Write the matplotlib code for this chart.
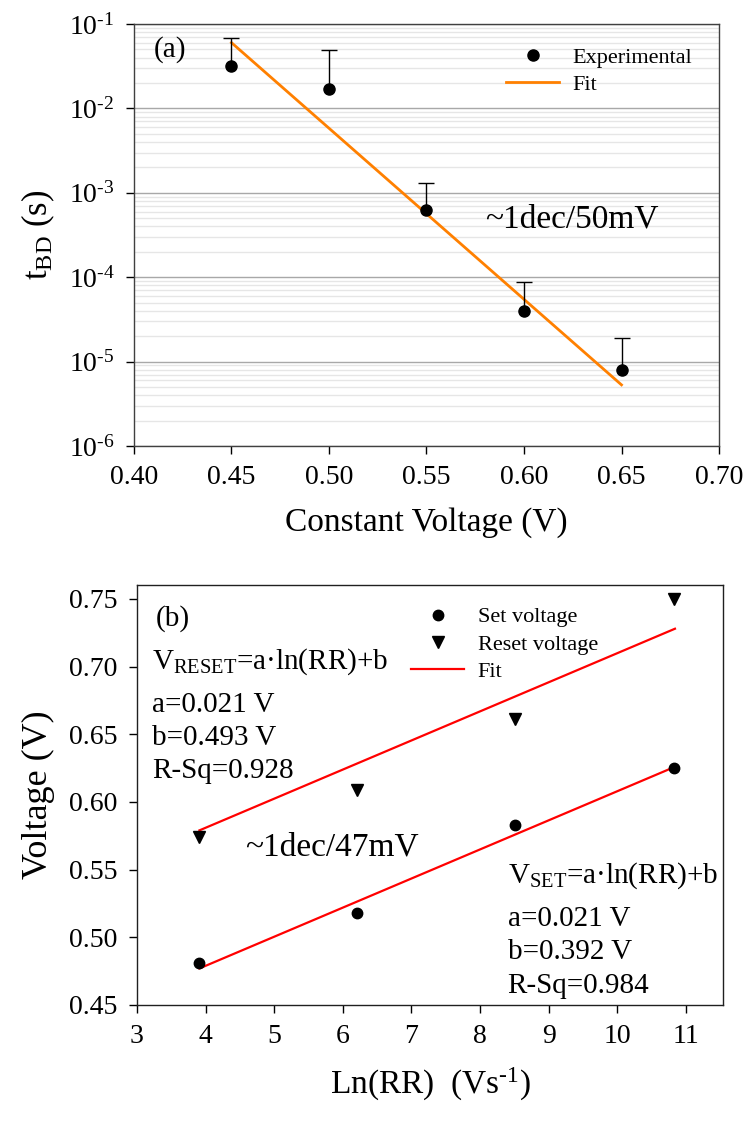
import numpy as np
import matplotlib
matplotlib.use("Agg")
import matplotlib.pyplot as plt
from matplotlib.ticker import FixedLocator, FuncFormatter, LogLocator, NullFormatter

plt.rcParams['font.family'] = ['Liberation Serif', 'DejaVu Serif']
plt.rcParams['mathtext.fontset'] = 'custom'
plt.rcParams['mathtext.rm'] = 'Liberation Serif'
plt.rcParams['mathtext.it'] = 'Liberation Serif:italic'
plt.rcParams['mathtext.bf'] = 'Liberation Serif:bold'

HY = '\u2010'  # short hyphen used in exponents

# ---------------- data: panel (a) ----------------
volt_a = [0.45, 0.50, 0.55, 0.60, 0.65]
tbd = [0.0318, 0.0171, 6.2e-4, 3.95e-5, 8.0e-6]
tbd_upper = [0.0676, 0.0488, 1.30e-3, 8.8e-5, 1.89e-5]
fit_a_x = [0.45, 0.65]
fit_a_y = [0.0601, 5.3e-6]
xticks_a = [0.40, 0.45, 0.50, 0.55, 0.60, 0.65, 0.70]
yticks_a = [1e-6, 1e-5, 1e-4, 1e-3, 1e-2, 1e-1]

# ---------------- data: panel (b) ----------------
ln_rr = [3.90, 6.20, 8.51, 10.82]
v_set = [0.481, 0.518, 0.583, 0.625]
v_reset = [0.574, 0.609, 0.661, 0.750]
fit_set_x = [3.91, 10.84]
fit_set_y = [0.477, 0.626]
fit_reset_x = [3.91, 10.84]
fit_reset_y = [0.579, 0.728]
xticks_b = [3, 4, 5, 6, 7, 8, 9, 10, 11]
yticks_b = [0.45, 0.50, 0.55, 0.60, 0.65, 0.70, 0.75]

fig = plt.figure(figsize=(7.51, 11.22), dpi=100)

# ================= panel (a) =================
ax1 = fig.add_axes([0.1784, 0.6025, 0.9574 - 0.1784, 0.9786 - 0.6025])
ax1.set_yscale('log')
ax1.set_xlim(0.40, 0.70)
ax1.set_ylim(1e-6, 1e-1)

ax1.yaxis.set_major_locator(FixedLocator(yticks_a))
ax1.yaxis.set_minor_locator(LogLocator(base=10, subs=np.arange(2, 10)))
ax1.yaxis.set_minor_formatter(NullFormatter())
ax1.yaxis.set_major_formatter(FuncFormatter(
    lambda v, p: r'$\mathregular{10^{%s%d}}$' % (HY, abs(int(round(np.log10(v)))))))
ax1.set_xticks(xticks_a)
ax1.set_xticklabels(['%.2f' % v for v in xticks_a])

ax1.grid(True, which='major', axis='y', color='#a8a8a8', linewidth=1.0)
ax1.grid(True, which='minor', axis='y', color='#e6e6e6', linewidth=1.0)
ax1.set_axisbelow(True)

ax1.tick_params(axis='both', which='major', direction='out', length=6, width=1, labelsize=20, pad=8)
ax1.tick_params(axis='y', which='minor', length=0)
for s in ax1.spines.values():
    s.set_linewidth(1.0)
    s.set_color('#404040')

err_low = np.zeros(len(tbd))
err_up = np.array(tbd_upper) - np.array(tbd)
eb = ax1.errorbar(volt_a, tbd, yerr=[err_low, err_up], fmt='none', ecolor='black',
                  elinewidth=1.0, capsize=5.5, capthick=1.0, zorder=3)
# hide the lower caps (only the upper error is drawn in the reference)
caplines = eb[1]
if len(caplines) == 2:
    caplines[0].set_visible(False)
ax1.plot(volt_a, tbd, 'o', color='black', markersize=8, label='Experimental', zorder=4)
ax1.plot(fit_a_x, fit_a_y, '-', color='#ff8000', linewidth=2.0, label='Fit', zorder=2)

ax1.legend(loc='upper left', bbox_to_anchor=(0.636, 0.945), frameon=False, fontsize=16,
           borderpad=0, borderaxespad=0, handlelength=2.4, handletextpad=0.6,
           labelspacing=0.3, numpoints=1)

ax1.text(0.41, 0.050, '(a)', fontsize=21, ha='left', va='center')
ax1.text(0.580, 4.8e-4, '~1dec/50mV', fontsize=24, ha='left', va='center')

ax1.set_xlabel('Constant Voltage (V)', fontsize=24, labelpad=12)
ax1.set_ylabel(r'$\mathregular{t_{BD}}$ (s)', fontsize=25, labelpad=8)

# ================= panel (b) =================
ax2 = fig.add_axes([0.1824, 0.1043, 0.9627 - 0.1824, 0.4786 - 0.1043])
ax2.set_xlim(3.0, 11.54)
ax2.set_ylim(0.45, 0.7603)
ax2.set_xticks(xticks_b)
ax2.set_xticklabels([str(v) for v in xticks_b])
ax2.set_yticks(yticks_b)
ax2.set_yticklabels(['%.2f' % v for v in yticks_b])
ax2.tick_params(axis='both', which='major', direction='out', length=6, width=1, labelsize=20, pad=8)
for s in ax2.spines.values():
    s.set_linewidth(1.0)
    s.set_color('#202020')

ax2.plot(ln_rr, v_set, 'o', color='black', markersize=7.5, label='Set voltage', zorder=4)
ax2.plot(ln_rr, v_reset, 'v', color='black', markersize=8, label='Reset voltage', zorder=4)
ax2.plot(fit_set_x, fit_set_y, '-', color='#ff0000', linewidth=1.6, label='Fit', zorder=3)
ax2.plot(fit_reset_x, fit_reset_y, '-', color='#ff0000', linewidth=1.6, zorder=3)

ax2.legend(loc='upper left', bbox_to_anchor=(0.4676, 0.948), frameon=False, fontsize=16,
           borderpad=0, borderaxespad=0, handlelength=2.4, handletextpad=0.6,
           labelspacing=0.3, numpoints=1)

fs_b = 21
ax2.text(3.28, 0.7357, '(b)', fontsize=fs_b, ha='left', va='center')
ax2.text(3.22, 0.7038, r'V$_{\mathregular{RESET}}$=a·ln(RR)+b', fontsize=fs_b, ha='left', va='center')
ax2.text(3.22, 0.6719, 'a=0.021 V', fontsize=fs_b, ha='left', va='center')
ax2.text(3.22, 0.6473, 'b=0.493 V', fontsize=fs_b, ha='left', va='center')
ax2.text(3.22, 0.6227, 'R-Sq=0.928', fontsize=fs_b, ha='left', va='center')
ax2.text(4.57, 0.5665, '~1dec/47mV', fontsize=24, ha='left', va='center')
ax2.text(8.40, 0.5453, r'V$_{\mathregular{SET}}$=a·ln(RR)+b', fontsize=fs_b, ha='left', va='center')
ax2.text(8.40, 0.5134, 'a=0.021 V', fontsize=fs_b, ha='left', va='center')
ax2.text(8.40, 0.4888, 'b=0.392 V', fontsize=fs_b, ha='left', va='center')
ax2.text(8.40, 0.4643, 'R-Sq=0.984', fontsize=fs_b, ha='left', va='center')

ax2.set_xlabel(r'Ln(RR)  (Vs$^{\mathregular{%s1}}$)' % HY, fontsize=24, labelpad=12)
ax2.set_ylabel('Voltage (V)', fontsize=26, labelpad=10)

fig.savefig('out.png', dpi=100)
